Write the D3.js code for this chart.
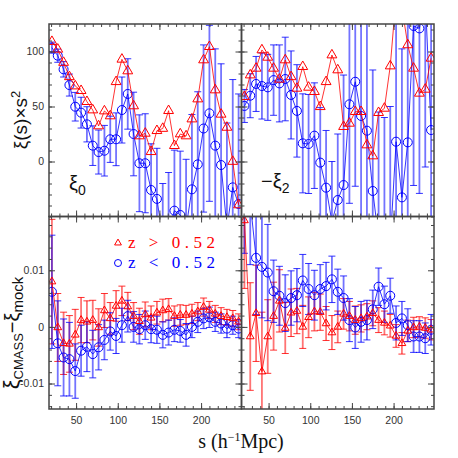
<!DOCTYPE html>
<html lang="en">
<head>
<meta charset="UTF-8">
<title>CMASS correlation function split by redshift</title>
<script src="https://d3js.org/d3.v7.min.js"></script>
<style>
    body { margin: 0; background: #fff; }
    svg { display: block; }
    .tick text { font-family: 'Liberation Sans', Arial, sans-serif; font-size: 10.5px; fill: #333; }
    .frame .tick line { stroke: #444; stroke-width: 1; }
</style>
</head>
<body>
<svg width="458" height="458"></svg>
<script>
// separation bins (h^-1 Mpc)
const sBins = [21, 28, 35, 42, 49, 56, 63, 70, 77, 84, 91, 98, 105, 112, 119, 126, 133,
    140, 147, 154, 161, 168, 175, 182, 189, 196, 203, 210, 217, 224, 231, 238, 245];

// top left: xi_0 * s^2
const xi0Red = [109, 102, 90, 77, 68.6, 64.4, 54.4, 46.8, 32.3, 45.9, 41.4, 72.5, 92.9, 82.3, 50.5, 23.2,
    25.6, 8.9, 28, 30, 46.2, 14.4, 25, 23.2, 38.6, 56.8, 92.3, 104.4, 65, 42.9, 31, 0, -39.5];
const xi0Blue = [103.5, 96.2, 83.8, 69.5, 49.8, 44.4, 33.8, 14.4, 8.6, 9.8, 20.2, 20.2, 46.8, 61.4, 25,
    -1.6, -1.6, -25.9, -34, -70, -62, -44.7, -48.6, -60, -25.3, -2.6, 30, 43.8, 14.4, -3.2, -60, -23.5, -38.6];
const xi0BlueErr = [5, 6, 7, 10, 13, 14, 16, 18, 20, 23, 21, 24, 30, 32, 38, 44, 45, 42, 46, 50, 52, 55,
    58, 62, 68, 66, 76, 80, 88, 92, 95, 98, 100];

// top right: -xi_2 * s^2
const xi2Red = [58.9, 78.6, 84.7, 101.4, 94.7, 84.7, 74.7, 92.3, 77, 66.5, 86.2, 67.4, 63.5, 49.8, 72.5,
    96.8, 83.2, 31.7, 34.7, 45.3, 45.3, 15, 5, 44.4, 48.3, 86.8, 150, 140, 106, 84.7, 62, 65.6, 93.8];
const xi2Blue = [50.5, 59.8, 70.5, 68.6, 67.4, 74, 71, 75, 60.5, 46, 16.5, 15.9, 23.5, -1, -23.8, -55,
    -35, -21.4, 52, 72.5, 41.4, 28, -26.8, -70, -80, -75, 18, -32.6, 17.4, 123.2, 121, 150, 28.6];
const xi2BlueErr = [15, 20, 25, 30, 30, 32, 35, 38, 40, 42, 45, 45, 48, 50, 52, 55, 60, 100, 90, 95, 100,
    105, 110, 115, 120, 125, 130, 135, 140, 145, 150, 155, 160];

// bottom left: xi_CMASS - xi_mock, monopole
const d0Red = [0.0080, -0.0001, -0.0029, -0.0030, -0.0014, 0.0012, 0.0009, 0.0012, -0.0001, 0.0029, 0.0015,
    0.0037, 0.0046, 0.0036, 0.0019, 0.0010, 0.0022, 0.0016, 0.0025, 0.0029, 0.0031, 0.0019, 0.0021, 0.0021,
    0.0023, 0.0027, 0.0035, 0.0030, 0.0023, 0.0019, 0.0017, 0.0015, 0.0009];
const d0RedErr = [0.011, 0.006, 0.0055, 0.005, 0.0045, 0.004, 0.0037, 0.0035, 0.0033, 0.003, 0.0028, 0.0027,
    0.0026, 0.0025, 0.0024, 0.0023, 0.0022, 0.0021, 0.002, 0.002, 0.0019, 0.0018, 0.0018, 0.0017, 0.0017,
    0.0016, 0.0016, 0.0015, 0.0015, 0.0015, 0.0014, 0.0014, 0.0014];
const d0Blue = [0.0062, -0.0029, -0.0054, -0.0057, -0.0078, -0.0042, -0.0035, -0.0048, -0.0036, -0.0023,
    -0.0008, -0.0016, 0.0003, 0.0019, 0.0000, -0.0004, 0.0003, -0.0004, -0.0005, -0.0014, -0.0010, -0.0005,
    -0.0007, -0.0014, 0.0000, 0.0009, 0.0015, 0.0017, 0.0009, 0.0006, -0.0003, 0.0003, -0.0003];
const d0BlueErr = [0.010, 0.0075, 0.0068, 0.0065, 0.0048, 0.0045, 0.0044, 0.0042, 0.004, 0.0035, 0.0033,
    0.0031, 0.003, 0.0028, 0.0027, 0.0026, 0.0025, 0.0024, 0.0024, 0.0023, 0.0022, 0.0021, 0.002, 0.002,
    0.0019, 0.0019, 0.0018, 0.0018, 0.0017, 0.0017, 0.0016, 0.0016, 0.0016];

// bottom right: xi_CMASS - xi_mock, quadrupole
const d2Red = [0.0188, -0.0017, 0.0024, -0.0079, -0.0017, 0.0019, 0.0046, -0.0002, 0.0025, 0.0028, 0.0000,
    0.0017, 0.0027, 0.0026, 0.0006, -0.0010, 0.0000, 0.0023, 0.0019, 0.0012, 0.0015, 0.0018, 0.0024, 0.0012,
    0.0007, 0.0002, -0.0016, -0.0029, -0.0007, -0.0001, 0.0000, -0.0002, -0.0005];
const d2RedErr = [0.012, 0.0095, 0.0085, 0.0105, 0.0065, 0.006, 0.0055, 0.0045, 0.0042, 0.004, 0.0038,
    0.0036, 0.0034, 0.0032, 0.003, 0.003, 0.0028, 0.0027, 0.0026, 0.0025, 0.0024, 0.0023, 0.0022, 0.0022,
    0.0021, 0.002, 0.002, 0.0019, 0.0019, 0.0018, 0.0018, 0.0018, 0.0018];
const d2Blue = [0.025, 0.022, 0.0122, 0.0106, 0.0096, 0.0063, 0.0055, 0.0042, 0.0051, 0.0056, 0.0082, 0.0067,
    0.0056, 0.0067, 0.0072, 0.0084, 0.0062, 0.0051, 0.0012, -0.0001, 0.0009, 0.0012, 0.0031, 0.0071, 0.0040,
    0.0055, 0.0007, 0.0015, 0.0003, -0.0017, -0.0017, -0.0020, -0.0005];
const d2BlueErr = [0.012, 0.011, 0.010, 0.009, 0.0085, 0.0055, 0.0052, 0.005, 0.0048, 0.0047, 0.0046, 0.0045,
    0.0044, 0.0043, 0.0042, 0.0041, 0.004, 0.0039, 0.0038, 0.0037, 0.0036, 0.0035, 0.0034, 0.0033, 0.0032,
    0.0031, 0.003, 0.003, 0.0029, 0.0028, 0.0028, 0.0027, 0.0027];

const xTicks = [50, 100, 150, 200];
const yTicksTop = [0, 50, 100];
const yTicksBottom = [-0.01, 0, 0.01];

const RED = "#ff0000";
const BLUE = "#0000ff";

const svg = d3.select("svg");

// grid of four panels sharing edges
const colX = [[49, 241.5], [241.5, 434]];
const rowY = [[24, 216.5], [216.5, 409]];

const xDomain = [17.5, 248.5];
const yDomainTop = [-50, 125];
const yDomainBottom = [-0.0145, 0.0195];

const panels = [
    { col: 0, row: 0, red: xi0Red, blue: xi0Blue, blueErr: xi0BlueErr, redErr: null, triSize: 42 },
    { col: 1, row: 0, red: xi2Red, blue: xi2Blue, blueErr: xi2BlueErr, redErr: null, triSize: 42 },
    { col: 0, row: 1, red: d0Red, blue: d0Blue, blueErr: d0BlueErr, redErr: d0RedErr, triSize: 26 },
    { col: 1, row: 1, red: d2Red, blue: d2Blue, blueErr: d2BlueErr, redErr: d2RedErr, triSize: 26 }
];

function minorTicks(domain, step) {
    return d3.range(Math.ceil(domain[0] / step) * step, domain[1] + 1e-9, step);
}

// plain hyphen for negatives, like the original
const fmtBottom = d => d === 0 ? "0" : (d < 0 ? "-" : "") + Math.abs(d).toFixed(2);

panels.forEach((p, k) => {
    const x = d3.scaleLinear().domain(xDomain).range(colX[p.col]);
    const yDom = p.row === 0 ? yDomainTop : yDomainBottom;
    const y = d3.scaleLinear().domain(yDom).range([rowY[p.row][1], rowY[p.row][0]]);
    const x0 = colX[p.col][0], x1 = colX[p.col][1];
    const y0 = rowY[p.row][0], y1 = rowY[p.row][1];

    const clipId = "clip" + k;
    svg.append("clipPath").attr("id", clipId)
        .append("rect").attr("x", x0).attr("y", y0).attr("width", x1 - x0).attr("height", y1 - y0);

    const g = svg.append("g").attr("clip-path", `url(#${clipId})`);

    const pts = (vals, errs) => sBins.map((s, i) => ({ s, v: vals[i], e: errs ? errs[i] : 0 }));
    const redPts = pts(p.red, p.redErr);
    const bluePts = pts(p.blue, p.blueErr);

    function errorBars(data, color) {
        const eb = g.append("g");
        eb.selectAll(null).data(data).enter().append("line")
            .attr("x1", d => x(d.s)).attr("x2", d => x(d.s))
            .attr("y1", d => y(d.v - d.e)).attr("y2", d => y(d.v + d.e))
            .attr("stroke", color).attr("stroke-opacity", 0.55).attr("stroke-width", 1.8);
        [-1, 1].forEach(sign => {
            eb.selectAll(null).data(data).enter().append("line")
                .attr("x1", d => x(d.s) - 3.5).attr("x2", d => x(d.s) + 3.5)
                .attr("y1", d => y(d.v + sign * d.e)).attr("y2", d => y(d.v + sign * d.e))
                .attr("stroke", color).attr("stroke-opacity", 0.8).attr("stroke-width", 1);
        });
    }

    if (p.redErr) errorBars(redPts, RED);
    errorBars(bluePts, BLUE);

    const line = d3.line().x(d => x(d.s)).y(d => y(d.v));

    g.append("path").datum(bluePts).attr("d", line)
        .attr("fill", "none").attr("stroke", BLUE).attr("stroke-opacity", 0.8).attr("stroke-width", 1);
    g.selectAll(null).data(bluePts).enter().append("circle")
        .attr("cx", d => x(d.s)).attr("cy", d => y(d.v)).attr("r", 4.5)
        .attr("fill", "none").attr("stroke", BLUE).attr("stroke-width", 1);

    g.append("path").datum(redPts).attr("d", line)
        .attr("fill", "none").attr("stroke", RED).attr("stroke-opacity", 0.8).attr("stroke-width", 1);
    const tri = d3.symbol().type(d3.symbolTriangle).size(p.triSize);
    g.selectAll(null).data(redPts).enter().append("path")
        .attr("transform", d => `translate(${x(d.s)},${y(d.v)})`)
        .attr("d", tri)
        .attr("fill", "none").attr("stroke", RED).attr("stroke-width", 1);

    // frame with inward ticks on all four sides
    const yTicks = p.row === 0 ? yTicksTop : yTicksBottom;
    const yMinor = p.row === 0 ? minorTicks(yDom, 10) : minorTicks(yDom, 0.002);
    const xMinor = minorTicks(xDomain, 10);

    const frame = svg.append("g").attr("class", "frame");
    const showX = p.row === 1, showY = p.col === 0;
    const yFmt = p.row === 0 ? d3.format("d") : fmtBottom;

    frame.append("g").attr("transform", `translate(0,${y1})`)
        .call(d3.axisBottom(x).tickValues(xMinor).tickSize(-3).tickFormat(""));
    frame.append("g").attr("transform", `translate(0,${y1})`)
        .call(d3.axisBottom(x).tickValues(xTicks).tickSize(-6).tickPadding(8)
            .tickFormat(showX ? d3.format("d") : ""));
    frame.append("g").attr("transform", `translate(0,${y0})`)
        .call(d3.axisTop(x).tickValues(xMinor).tickSize(-3).tickFormat(""));
    frame.append("g").attr("transform", `translate(0,${y0})`)
        .call(d3.axisTop(x).tickValues(xTicks).tickSize(-6).tickFormat(""));

    frame.append("g").attr("transform", `translate(${x0},0)`)
        .call(d3.axisLeft(y).tickValues(yMinor).tickSize(-3).tickFormat(""));
    frame.append("g").attr("transform", `translate(${x0},0)`)
        .call(d3.axisLeft(y).tickValues(yTicks).tickSize(-6).tickPadding(5)
            .tickFormat(showY ? yFmt : ""));
    frame.append("g").attr("transform", `translate(${x1},0)`)
        .call(d3.axisRight(y).tickValues(yMinor).tickSize(-3).tickFormat(""));
    frame.append("g").attr("transform", `translate(${x1},0)`)
        .call(d3.axisRight(y).tickValues(yTicks).tickSize(-6).tickFormat(""));

    frame.selectAll(".domain").remove();
    frame.append("rect").attr("x", x0).attr("y", y0).attr("width", x1 - x0).attr("height", y1 - y0)
        .attr("fill", "none").attr("stroke", "#444").attr("stroke-width", 1.5);
});

// axis titles
const serif = "'Liberation Serif', 'DejaVu Serif', serif";
const sans = "'Liberation Sans', Arial, sans-serif";

const yt = svg.append("text")
    .attr("transform", "translate(27,120) rotate(-90)")
    .attr("text-anchor", "middle")
    .style("font-family", sans).style("font-size", "19px").attr("fill", "#111");
yt.append("tspan").text("ξ(s)×s");
yt.append("tspan").attr("dy", -7).style("font-size", "13px").text("2");

const yb = svg.append("text")
    .attr("transform", "translate(19,333) rotate(-90)")
    .attr("text-anchor", "middle")
    .style("font-family", sans).style("font-size", "22px").attr("fill", "#111");
yb.append("tspan").text("ξ");
yb.append("tspan").attr("dy", 4).style("font-size", "13px").text("CMASS");
yb.append("tspan").attr("dy", -4).style("font-size", "20px").text("−ξ");
yb.append("tspan").attr("dy", 4).style("font-size", "15px").text("mock");

const xt = svg.append("text")
    .attr("x", 241).attr("y", 448)
    .attr("text-anchor", "middle")
    .style("font-family", serif).style("font-size", "20px").attr("fill", "#111");
xt.append("tspan").text("s (h");
xt.append("tspan").attr("dy", -7).style("font-size", "12px").text("−1");
xt.append("tspan").attr("dy", 7).text("Mpc)");

// panel annotations
const a0 = svg.append("text").attr("x", 69).attr("y", 190)
    .style("font-family", sans).style("font-size", "20px").attr("fill", "#111");
a0.append("tspan").text("ξ");
a0.append("tspan").attr("dy", 5).style("font-size", "14px").text("0");

const a2 = svg.append("text").attr("x", 261).attr("y", 188)
    .style("font-family", sans).style("font-size", "20px").attr("fill", "#111");
a2.append("tspan").text("−ξ");
a2.append("tspan").attr("dy", 5).style("font-size", "14px").text("2");

// legend
const legend = [
    { label: "z > 0.52", color: RED, shape: "tri", y: 242 },
    { label: "z < 0.52", color: BLUE, shape: "circle", y: 262 }
];
legend.forEach(l => {
    if (l.shape === "tri") {
        svg.append("path").attr("transform", `translate(118,${l.y + 1})`)
            .attr("d", d3.symbol().type(d3.symbolTriangle).size(20))
            .attr("fill", "none").attr("stroke", l.color).attr("stroke-width", 1);
    } else {
        svg.append("circle").attr("cx", 118).attr("cy", l.y + 1).attr("r", 3.5)
            .attr("fill", "none").attr("stroke", l.color).attr("stroke-width", 1);
    }
    svg.append("text").attr("x", 128).attr("y", l.y + 6)
        .attr("textLength", 87).attr("lengthAdjust", "spacing")
        .style("font-family", serif).style("font-size", "17px").attr("fill", l.color)
        .text(l.label);
});
</script>
</body>
</html>
